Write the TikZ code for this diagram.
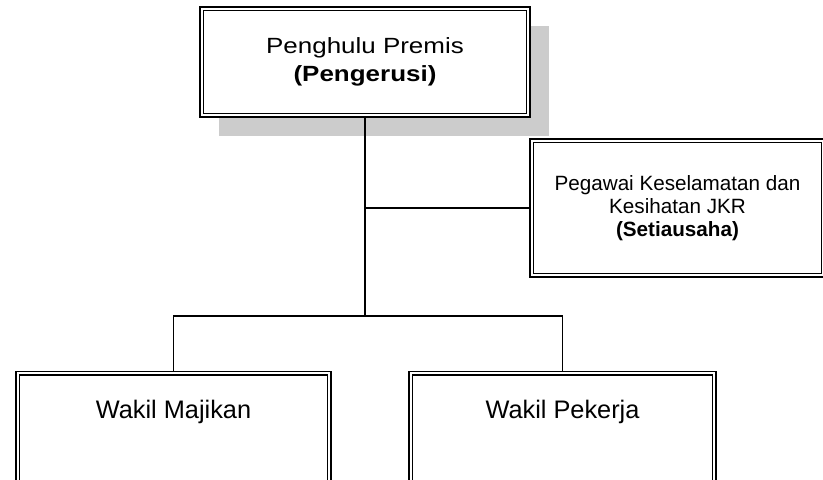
\documentclass[tikz,border=0pt]{standalone}
\usepackage{fontspec}
\setmainfont{Liberation Sans}
\usetikzlibrary{shadows}

\begin{document}
\begin{tikzpicture}[x = 0.75pt, y = -0.75pt]
\tikzstyle{BoxStyle}=[shape = rectangle,
                         draw,
                         line width = 0.8pt,
                         fill = white,
                         align = center,
                         inner sep = 0pt]
\tikzstyle{LinkStyle}=[line width = 1.1pt]
\useasboundingbox (0,0) rectangle (823,479);
\clip (0,0) rectangle (823,479);
% boxes
\node[BoxStyle, drop shadow = {shadow xshift = 14pt, shadow yshift = -14pt,
                               fill = black!20, opacity = 1},
      minimum width = 247.5pt, minimum height = 82.5pt,
      font = \fontsize{16.5}{20.5}\selectfont] (penghulu) at (365,62)
      {\scalebox{1.18}[1]{Penghulu Premis}\\\scalebox{1.18}[1]{\textbf{(Pengerusi)}}};
\node[BoxStyle, minimum width = 221.25pt, minimum height = 103.5pt,
      font = \fontsize{15.5}{17.5}\selectfont] (pegawai) at (677.5,208)
      {Pegawai Keselamatan dan\\Kesihatan JKR\\\textbf{(Setiausaha)}};
\node[BoxStyle, minimum width = 236.25pt, text height = 35pt, text depth = 77pt,
      font = \fontsize{19}{22}\selectfont, anchor = north] (majikan) at (173.5,371)
      {Wakil Majikan};
\node[BoxStyle, minimum width = 230.25pt, text height = 35pt, text depth = 77pt,
      font = \fontsize{19}{22}\selectfont, anchor = north] (pekerja) at (562.5,371)
      {Wakil Pekerja};
% inner lines of the double borders
\foreach \n in {penghulu, pegawai, majikan, pekerja}
  \draw[line width = 1.4pt] ([xshift = 3pt, yshift = -3pt]\n.north west)
        rectangle ([xshift = -3pt, yshift = 3pt]\n.south east);
% links
\coordinate (branch) at (365,208);
\coordinate (junction) at (365,316);
\draw[LinkStyle] (penghulu.south) -- (junction);
\draw[LinkStyle] (branch) -- (pegawai.west);
\draw[LinkStyle] (junction) -| (majikan.north);
\draw[LinkStyle] (junction) -| (pekerja.north);
\end{tikzpicture}
\end{document}
